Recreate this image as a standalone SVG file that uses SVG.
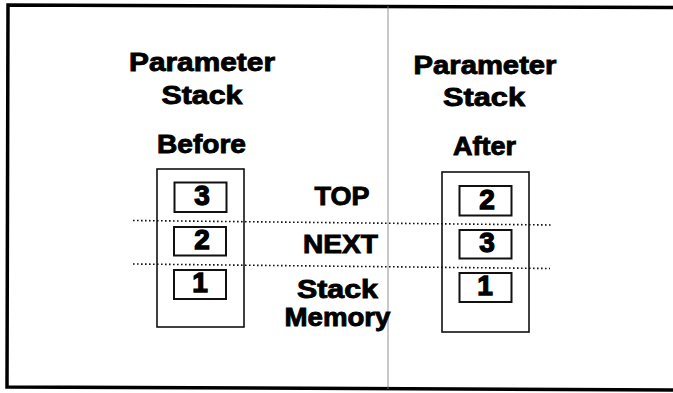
<svg xmlns="http://www.w3.org/2000/svg" width="673" height="393" viewBox="0 0 673 393">
<style>
.t{font-family:"Liberation Sans",Arial,sans-serif;font-weight:bold;fill:#000;stroke:#000;stroke-width:0.9;text-anchor:middle}
.h{font-size:26px}
.n{font-size:28px;stroke-width:1.3}
.ob{fill:none;stroke:#111;stroke-width:1.6}
.ib{fill:none;stroke:#111;stroke-width:2}
.dot{fill:none;stroke:#111;stroke-width:1.6;stroke-dasharray:1.6 2.4}
</style>
<rect width="673" height="393" fill="#fff"/>
<path d="M673,7.5 L8,5 L7,387 L673,390" fill="none" stroke="#000" stroke-width="3.5"/>
<line x1="388" y1="6" x2="388" y2="389" stroke="#777" stroke-width="0.8"/>
<g id="labels-left">
<text class="t h" x="202" y="71" textLength="146" lengthAdjust="spacingAndGlyphs">Parameter</text>
<text class="t h" x="202" y="103.5" textLength="81" lengthAdjust="spacingAndGlyphs">Stack</text>
<text class="t h" x="201.5" y="153" textLength="89" lengthAdjust="spacingAndGlyphs">Before</text>
</g>
<g id="labels-right">
<text class="t h" x="485" y="74" textLength="143" lengthAdjust="spacingAndGlyphs">Parameter</text>
<text class="t h" x="484" y="106" textLength="82" lengthAdjust="spacingAndGlyphs">Stack</text>
<text class="t h" x="484.5" y="155" textLength="63" lengthAdjust="spacingAndGlyphs">After</text>
</g>
<g id="labels-middle">
<text class="t h" x="342" y="205" textLength="55" lengthAdjust="spacingAndGlyphs">TOP</text>
<text class="t h" x="340.5" y="253" textLength="75" lengthAdjust="spacingAndGlyphs">NEXT</text>
<text class="t h" x="337.5" y="298" textLength="81" lengthAdjust="spacingAndGlyphs">Stack</text>
<text class="t h" x="337.5" y="326" textLength="106" lengthAdjust="spacingAndGlyphs">Memory</text>
</g>
<g id="stack-before">
<rect class="ob" x="157" y="169" width="87" height="158"/>
<g id="before-3"><rect class="ib" x="174.5" y="182.5" width="52" height="29.5"/><text class="t n" x="202" y="204.5">3</text></g>
<g id="before-2"><rect class="ib" x="174" y="227" width="52" height="28.5"/><text class="t n" x="202" y="248.5">2</text></g>
<g id="before-1"><rect class="ib" x="174" y="270" width="52" height="29"/><text class="t n" x="200" y="292">1</text></g>
</g>
<g id="stack-after">
<rect class="ob" x="442" y="172" width="87" height="160"/>
<g id="after-2"><rect class="ib" x="459.5" y="186" width="52" height="29.5"/><text class="t n" x="487" y="208.5">2</text></g>
<g id="after-3"><rect class="ib" x="459.5" y="230" width="52" height="28.5"/><text class="t n" x="487" y="252">3</text></g>
<g id="after-1"><rect class="ib" x="459.5" y="273" width="52" height="29"/><text class="t n" x="485" y="294.5">1</text></g>
</g>
<g id="connectors">
<line class="dot" x1="133" y1="220.5" x2="552" y2="225"/>
<line class="dot" x1="133" y1="264" x2="550" y2="268.5"/>
</g>
</svg>
